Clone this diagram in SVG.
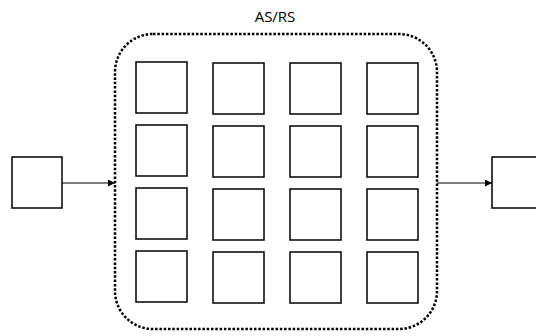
<svg xmlns="http://www.w3.org/2000/svg" width="536" height="336" viewBox="0 0 536 336">
<defs>
<style>
.box{fill:#fff;stroke:#000;stroke-width:1.5}
.cont{fill:none;stroke:#000;stroke-width:2.5;stroke-dasharray:2.5 1.8}
.conn{stroke:#000;stroke-width:1;fill:none;marker-end:url(#ah)}
.lbl{font-family:"Open Sans","Liberation Sans",sans-serif;font-size:15px;fill:#000}
</style>
<marker id="ah" viewBox="0 0 10 10" refX="10" refY="5" markerWidth="7" markerHeight="7" markerUnits="userSpaceOnUse" orient="auto"><path d="M0,0 L10,5 L0,10 z" fill="#000"/></marker>
</defs>
<g id="asrs">
<rect class="cont" x="115" y="34" width="322" height="295" rx="38" ry="38"/>
<text class="lbl" x="275" y="22" text-anchor="middle">AS/RS</text>
</g>
<g id="cells">
<g id="c11"><rect class="box" x="136" y="62" width="51" height="51"/></g>
<g id="c12"><rect class="box" x="213" y="63" width="51" height="51"/></g>
<g id="c13"><rect class="box" x="290" y="63" width="51" height="51"/></g>
<g id="c14"><rect class="box" x="367" y="63" width="51" height="51"/></g>
<g id="c21"><rect class="box" x="136" y="125" width="51" height="51"/></g>
<g id="c22"><rect class="box" x="213" y="126" width="51" height="51"/></g>
<g id="c23"><rect class="box" x="290" y="126" width="51" height="51"/></g>
<g id="c24"><rect class="box" x="367" y="126" width="51" height="51"/></g>
<g id="c31"><rect class="box" x="136" y="188" width="51" height="51"/></g>
<g id="c32"><rect class="box" x="213" y="189" width="51" height="51"/></g>
<g id="c33"><rect class="box" x="290" y="189" width="51" height="51"/></g>
<g id="c34"><rect class="box" x="367" y="189" width="51" height="51"/></g>
<g id="c41"><rect class="box" x="136" y="251" width="51" height="51"/></g>
<g id="c42"><rect class="box" x="213" y="252" width="51" height="51"/></g>
<g id="c43"><rect class="box" x="290" y="252" width="51" height="51"/></g>
<g id="c44"><rect class="box" x="367" y="252" width="51" height="51"/></g>
</g>
<g id="input"><rect class="box" x="12" y="157" width="50" height="51"/></g>
<g id="output"><rect class="box" x="492" y="157" width="51" height="51"/></g>
<g id="connectors">
<line class="conn" x1="62" y1="183" x2="115" y2="183"/>
<line class="conn" x1="437" y1="183" x2="492" y2="183"/>
</g>
</svg>
